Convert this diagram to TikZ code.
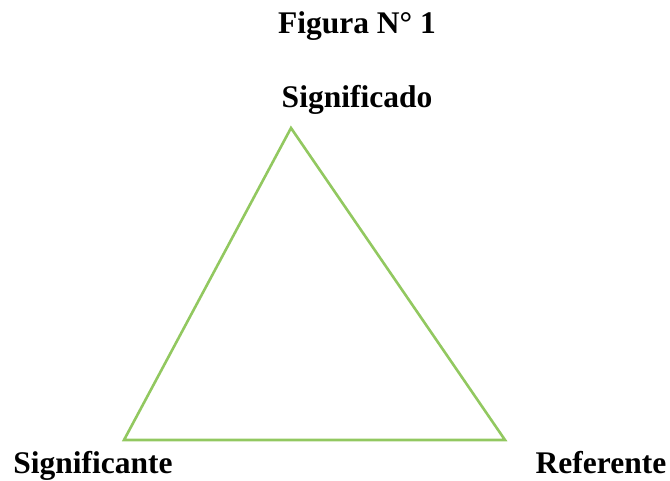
\documentclass[tikz,border=0pt]{standalone}
\usepackage{fontspec}
\setmainfont{Liberation Serif}
\definecolor{tri}{RGB}{146,200,96}
\begin{document}
\begin{tikzpicture}[x=1pt,y=-1pt,
  lbl/.style={font=\fontsize{31.5}{36}\selectfont\bfseries, anchor=base, inner sep=0pt},
  edge/.style={draw=tri, line width=2.6pt, line join=miter}]
\useasboundingbox (0,0) rectangle (670,481);
\node[lbl] (title) at (357,34) {Figura N° 1};
\node[lbl] (sdo) at (357,108) {Significado};
\node[lbl] (ste) at (93,473) {Significante};
\node[lbl] (ref) at (601,473) {Referente};
\coordinate (A) at (291,128);
\coordinate (B) at (124,440);
\coordinate (C) at (505,440);
\draw[edge] (A) -- (B) -- (C) -- cycle;
\end{tikzpicture}
\end{document}
